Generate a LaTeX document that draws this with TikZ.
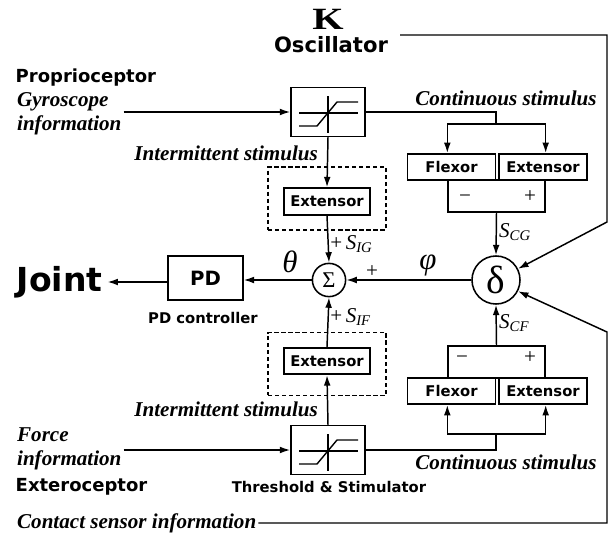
\documentclass[tikz,border=0pt]{standalone}
\usepackage{fontspec}
\setmainfont{Liberation Serif}
\newfontfamily\heavyfont{DejaVu Sans}
\usetikzlibrary{positioning,arrows.meta}
\newcommand{\hv}[1]{\heavyfont\bfseries\fontsize{#1}{#1}\selectfont}
\newcommand{\sig}[1]{\textit{S}\textsubscript{\textit{#1}}}

\begin{document}
\begin{tikzpicture}[x=0.025cm,y=-0.025cm,>={Latex[length=2.6mm,width=1.7mm]},line width=1.05pt,
  thr/.style={draw,line width=1.1pt,minimum width=1.85cm,minimum height=1.22cm,inner sep=0pt},
  musc/.style={draw,line width=1.1pt,minimum width=2.2cm,minimum height=0.66cm,inner sep=0pt,font=\hv{10.5}},
  grp/.style={draw,densely dashed,line width=0.9pt,minimum width=2.95cm,minimum height=1.57cm},
  junc/.style={circle,draw,line width=1.1pt,inner sep=0pt},
  brk/.style={draw,line width=1.1pt,minimum width=2.42cm,minimum height=0.8cm},
  itl/.style={font=\bfseries\itshape\fontsize{15}{17}\selectfont,align=left,inner sep=1pt},
  head/.style={font=\hv{12.8},inner sep=0pt},
  sml/.style={font=\hv{10.5},inner sep=0pt},
  sgn/.style={font=\fontsize{15}{15}\selectfont,inner sep=1pt}]
  \useasboundingbox (0,0) rectangle (613,533);

  % ---------------- top: oscillator and proprioceptor ----------------
  \node[font=\bfseries\fontsize{22}{22}\selectfont,inner sep=0pt] (kap) at (328,19) {\scalebox{1.3}[1]{K}};
  \node[head,font=\hv{15}] (osc) at (331,45) {Oscillator};
  \coordinate (oscout) at (400,35);
  \node[head,anchor=west] (prop) at (15,78) {Proprioceptor};
  \node[itl,anchor=west] (gyro) at (15,114) {Gyroscope\\information};
  \node[thr] (thrU) at (328,112) {};
  \node[itl,anchor=east] (intU) at (320,153) {Intermittent stimulus};
  \node[grp] (grpU) at (327,198.5) {};
  \node[musc,minimum width=2.15cm,line width=1.4pt] (extU) at (327,201.5) {Extensor};

  % ---------------- middle: summing point, PD, joint ----------------
  \node[junc,minimum size=0.83cm,font=\fontsize{16}{16}\selectfont] (sum) at (329,280) {Σ};
  \node[draw,line width=1.1pt,minimum width=1.87cm,minimum height=1.1cm,font=\hv{14}] (pd) at (205.5,278) {PD};
  \node[sml] (pdlbl) at (203,318) {PD controller};
  \node[font=\hv{23.5},inner sep=3pt,anchor=west] (joint) at (12,282) {Joint};
  \node[font=\itshape\fontsize{22}{22}\selectfont] (theta) at (290,262) {θ};
  \node[font=\itshape\fontsize{22}{22}\selectfont] (phi) at (428,265) {φ};
  \node[sgn] (plsum) at (372,272) {+};
  \node[junc,minimum size=1.2cm,font=\fontsize{28}{28}\selectfont] (delta) at (496,280) {δ};

  % ---------------- right: continuous stimulus, flexor/extensor ----------------
  \node[itl] (contU) at (506,98) {Continuous stimulus};
  \coordinate (splitU) at (496,124);
  \node[musc] (flxU) at (451.5,167) {Flexor};
  \node[musc] (extRU) at (543,167) {Extensor};
  \node[brk] (brU) at (496.5,196) {};
  \node[sgn] (mU) at (465,199) {−};
  \node[sgn] (pU) at (530,197) {+};
  \node[sgn,anchor=west] (scg) at (497,232) {\sig{CG}};

  \node[brk] (brL) at (496.5,362) {};
  \node[sgn] (mL) at (462,360) {−};
  \node[sgn] (pL) at (530,358) {+};
  \node[musc] (flxL) at (451.5,391) {Flexor};
  \node[musc] (extRL) at (543,391) {Extensor};
  \coordinate (splitL) at (496,434);
  \node[itl] (contL) at (506,462) {Continuous stimulus};
  \node[sgn,anchor=west] (scf) at (497,323) {\sig{CF}};

  % ---------------- bottom: exteroceptor ----------------
  \node[grp] (grpL) at (327,364) {};
  \node[musc,minimum width=2.15cm,line width=1.4pt] (extL) at (327,361) {Extensor};
  \node[itl,anchor=east] (intL) at (320,409) {Intermittent stimulus};
  \node[thr] (thrL) at (328,450) {};
  \node[sml] (thrlbl) at (329,487) {Threshold \& Stimulator};
  \node[itl,anchor=west] (force) at (15,449) {Force\\information};
  \node[head,anchor=west] (exte) at (15,487) {Exteroceptor};
  \node[itl,anchor=west] (contact) at (15,523) {Contact sensor information};
  \coordinate (cornerU) at (607,222);
  \coordinate (cornerL) at (607,332);

  % threshold characteristic inside both boxes
  \foreach \t in {thrU,thrL}{
    \draw[line width=0.8pt,shift={(\t.center)}] (-29,1) -- (30,1) (0,-16) -- (0,21);
    \draw[line width=1pt,shift={(\t.center)}] (-29,14) -- (-11,14) -- (9,-10) -- (30,-10);
  }

  % signal paths
  \draw[->] (gyro.east |- thrU.west) -- (thrU.west);
  \draw[->] (force.east |- thrL.west) -- (thrL.west);
  \draw[->] (thrU.south) -- (extU.north);
  \draw[->] (extU.south) -- (sum.north) node[sgn,pos=0.6,anchor=west] (sig) {+\,\sig{IG}};
  \draw[->] (thrL.north) -- (extL.south);
  \draw[->] (extL.north) -- (sum.south) node[sgn,pos=0.6,anchor=west] (sif) {+\,\sig{IF}};
  \draw[->] (sum.west) -- (sum.west -| pd.east);
  \draw[->] (pd.west |- joint.east) -- (joint.east);
  \draw[->] (delta.west) -- (sum.east);
  \draw[->] (brU.south) -- (delta.north);
  \draw[->] (brL.north) -- (delta.south);

  % continuous stimulus fan-out to flexor and extensor
  \draw (thrU.east) -| (splitU);
  \draw[->] (splitU) -- (brU.west |- splitU) -- (brU.west |- flxU.north);
  \draw[->] (splitU) -- (brU.east |- splitU) -- (brU.east |- extRU.north);
  \draw (thrL.east) -| (splitL);
  \draw[->] (splitL) -- (brL.west |- splitL) -- (brL.west |- flxL.south);
  \draw[->] (splitL) -- (brL.east |- splitL) -- (brL.east |- extRL.south);

  % oscillator and contact sensor feed the phase unit
  \draw[->] (oscout) -| (cornerU) -- (delta.27);
  \draw[->] (contact.east) -| (cornerL) -- (delta.-27);
\end{tikzpicture}
\end{document}
